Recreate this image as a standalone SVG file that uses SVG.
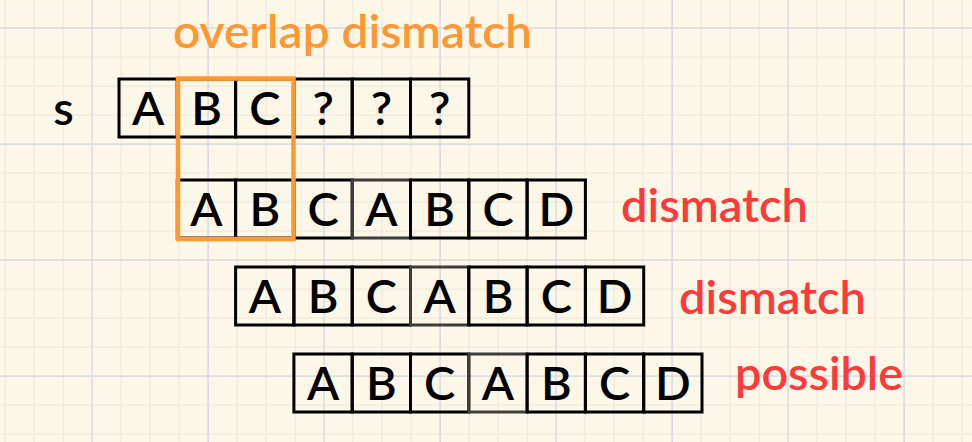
<svg xmlns="http://www.w3.org/2000/svg" width="972" height="442" viewBox="0 0 972 442">
<defs>
<pattern id="grid" patternUnits="userSpaceOnUse" x="92" y="28" width="116" height="116">
<rect x="0" y="0" width="116" height="116" fill="#fcf7e7"/>
<g fill="#efebdd">
<rect x="28.5" y="0" width="1.2" height="116"/><rect x="57.5" y="0" width="1.2" height="116"/><rect x="86.5" y="0" width="1.2" height="116"/>
<rect x="0" y="28.5" width="116" height="1.2"/><rect x="0" y="57.5" width="116" height="1.2"/><rect x="0" y="86.5" width="116" height="1.2"/>
</g>
<g fill="#dcdce2">
<rect x="-0.7" y="0" width="1.6" height="116"/><rect x="0" y="-0.7" width="116" height="1.6"/>
<rect x="115.3" y="0" width="1.6" height="116"/><rect x="0" y="115.3" width="116" height="1.6"/>
</g>
</pattern>
</defs>
<style>
.cell{fill:none;stroke:#000;stroke-width:3}
.gray{fill:none;stroke:#3c3c3c;stroke-width:3}
.ch{font-family:Lato,"Noto Sans","Liberation Sans",sans-serif;font-size:47px;font-weight:600;fill:#000;text-anchor:middle}
.lbl{font-family:Lato,"Noto Sans","Liberation Sans",sans-serif;font-size:46px;font-weight:600;fill:#fd3a3a}
.hl{fill:none;stroke:#fe9833;stroke-width:4.5}
</style>
<rect x="0" y="0" width="972" height="442" fill="url(#grid)"/>

<g id="title">
<text class="lbl" x="173" y="48" style="fill:#fe9833" textLength="359" lengthAdjust="spacingAndGlyphs">overlap dismatch</text>
</g>

<g id="s-label">
<text class="ch" x="63.5" y="125">s</text>
</g>

<g id="row-s">
<rect class="cell" x="119" y="79" width="58.3" height="58"/>
<rect class="cell" x="177.3" y="79" width="58.3" height="58"/>
<rect class="cell" x="235.6" y="79" width="58.3" height="58"/>
<rect class="cell" x="293.9" y="79" width="58.3" height="58"/>
<rect class="cell" x="352.2" y="79" width="58.3" height="58"/>
<rect class="cell" x="410.5" y="79" width="58.3" height="58"/>
<text class="ch" x="148.2" y="125">A</text>
<text class="ch" x="206.5" y="125">B</text>
<text class="ch" x="264.8" y="125">C</text>
<text class="ch" x="323.1" y="125">?</text>
<text class="ch" x="381.4" y="125">?</text>
<text class="ch" x="439.7" y="125">?</text>
</g>

<g id="row-1">
<rect class="cell" x="177.3" y="180" width="58.3" height="58"/>
<rect class="cell" x="235.6" y="180" width="58.3" height="58"/>
<rect class="cell" x="293.9" y="180" width="58.3" height="58"/>
<rect class="gray" x="352.2" y="180" width="58.3" height="58"/>
<rect class="cell" x="410.5" y="180" width="58.3" height="58"/>
<rect class="cell" x="468.8" y="180" width="58.3" height="58"/>
<rect class="cell" x="527.1" y="180" width="58.3" height="58"/>
<text class="ch" x="206.5" y="226">A</text>
<text class="ch" x="264.8" y="226">B</text>
<text class="ch" x="323.1" y="226">C</text>
<text class="ch" x="381.4" y="226">A</text>
<text class="ch" x="439.7" y="226">B</text>
<text class="ch" x="498" y="226">C</text>
<text class="ch" x="556.3" y="226">D</text>
<text class="lbl" x="621" y="222" textLength="187" lengthAdjust="spacingAndGlyphs">dismatch</text>
</g>

<g id="row-2">
<rect class="cell" x="235.6" y="267" width="58.3" height="58"/>
<rect class="cell" x="293.9" y="267" width="58.3" height="58"/>
<rect class="cell" x="352.2" y="267" width="58.3" height="58"/>
<rect class="gray" x="410.5" y="267" width="58.3" height="58"/>
<rect class="cell" x="468.8" y="267" width="58.3" height="58"/>
<rect class="cell" x="527.1" y="267" width="58.3" height="58"/>
<rect class="cell" x="585.4" y="267" width="58.3" height="58"/>
<text class="ch" x="264.8" y="313">A</text>
<text class="ch" x="323.1" y="313">B</text>
<text class="ch" x="381.4" y="313">C</text>
<text class="ch" x="439.7" y="313">A</text>
<text class="ch" x="498" y="313">B</text>
<text class="ch" x="556.3" y="313">C</text>
<text class="ch" x="614.6" y="313">D</text>
<text class="lbl" x="679" y="314" textLength="187" lengthAdjust="spacingAndGlyphs">dismatch</text>
</g>

<g id="row-3">
<rect class="cell" x="293.9" y="354" width="58.3" height="58"/>
<rect class="cell" x="352.2" y="354" width="58.3" height="58"/>
<rect class="cell" x="410.5" y="354" width="58.3" height="58"/>
<rect class="gray" x="468.8" y="354" width="58.3" height="58"/>
<rect class="cell" x="527.1" y="354" width="58.3" height="58"/>
<rect class="cell" x="585.4" y="354" width="58.3" height="58"/>
<rect class="cell" x="643.7" y="354" width="58.3" height="58"/>
<text class="ch" x="323.1" y="400">A</text>
<text class="ch" x="381.4" y="400">B</text>
<text class="ch" x="439.7" y="400">C</text>
<text class="ch" x="498" y="400">A</text>
<text class="ch" x="556.3" y="400">B</text>
<text class="ch" x="614.6" y="400">C</text>
<text class="ch" x="672.9" y="400">D</text>
<text class="lbl" x="735" y="390" textLength="168" lengthAdjust="spacingAndGlyphs">possible</text>
</g>

<g id="overlap-highlight">
<rect class="hl" x="178" y="78.5" width="115.5" height="160.5"/>
</g>

<g id="connectors"></g>
</svg>
